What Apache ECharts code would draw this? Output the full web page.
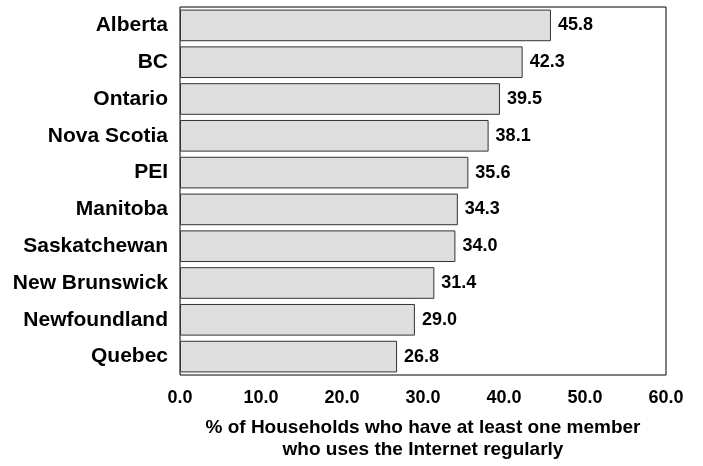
<!DOCTYPE html>
<html>
<head>
<meta charset="utf-8">
<script src="https://cdn.jsdelivr.net/npm/echarts@6/dist/echarts.min.js"></script>
<style>
  html, body { margin: 0; padding: 0; background: #fff; }
  #chart { width: 703px; height: 466px; }
</style>
</head>
<body>
<div id="chart"></div>
<script>
// provinces, top to bottom
const provinces = ['Alberta', 'BC', 'Ontario', 'Nova Scotia', 'PEI', 'Manitoba',
  'Saskatchewan', 'New Brunswick', 'Newfoundland', 'Quebec'];
// % of households with a regular internet user
const usage = [45.8, 42.3, 39.5, 38.1, 35.6, 34.3, 34.0, 31.4, 29.0, 26.8];

const font = 'Liberation Sans, Arial, sans-serif';
const chart = echarts.init(document.getElementById('chart'));

const option = {
  animation: false,
  grid: {
    left: 180, right: 37, top: 7, bottom: 87,
    show: true, borderColor: '#000', borderWidth: 1, backgroundColor: 'transparent'
  },
  xAxis: {
    type: 'value',
    min: 0, max: 60, interval: 10,
    axisLine: { show: false },
    axisTick: { show: false },
    splitLine: { show: false },
    axisLabel: {
      margin: 14, color: '#000', fontFamily: font, fontWeight: 'bold', fontSize: 18,
      formatter: v => v.toFixed(1)
    },
    name: '% of Households who have at least one member\nwho uses the Internet regularly',
    nameLocation: 'middle',
    nameGap: 42,
    nameTextStyle: { color: '#000', fontFamily: font, fontWeight: 'bold', fontSize: 19, lineHeight: 22 }
  },
  yAxis: {
    type: 'category',
    data: provinces,
    inverse: true,
    axisLine: { show: false },
    axisTick: { show: false },
    axisLabel: { margin: 12, color: '#000', fontFamily: font, fontWeight: 'bold', fontSize: 21 }
  },
  series: [{
    type: 'bar',
    data: usage,
    barCategoryGap: '14%',
    itemStyle: { color: '#dedede', borderColor: '#333', borderWidth: 1 },
    label: {
      show: true, position: 'right', distance: 7,
      color: '#000', fontFamily: font, fontWeight: 'bold', fontSize: 18,
      formatter: p => p.value.toFixed(1)
    }
  }]
};
chart.setOption(option);
</script>
</body>
</html>
